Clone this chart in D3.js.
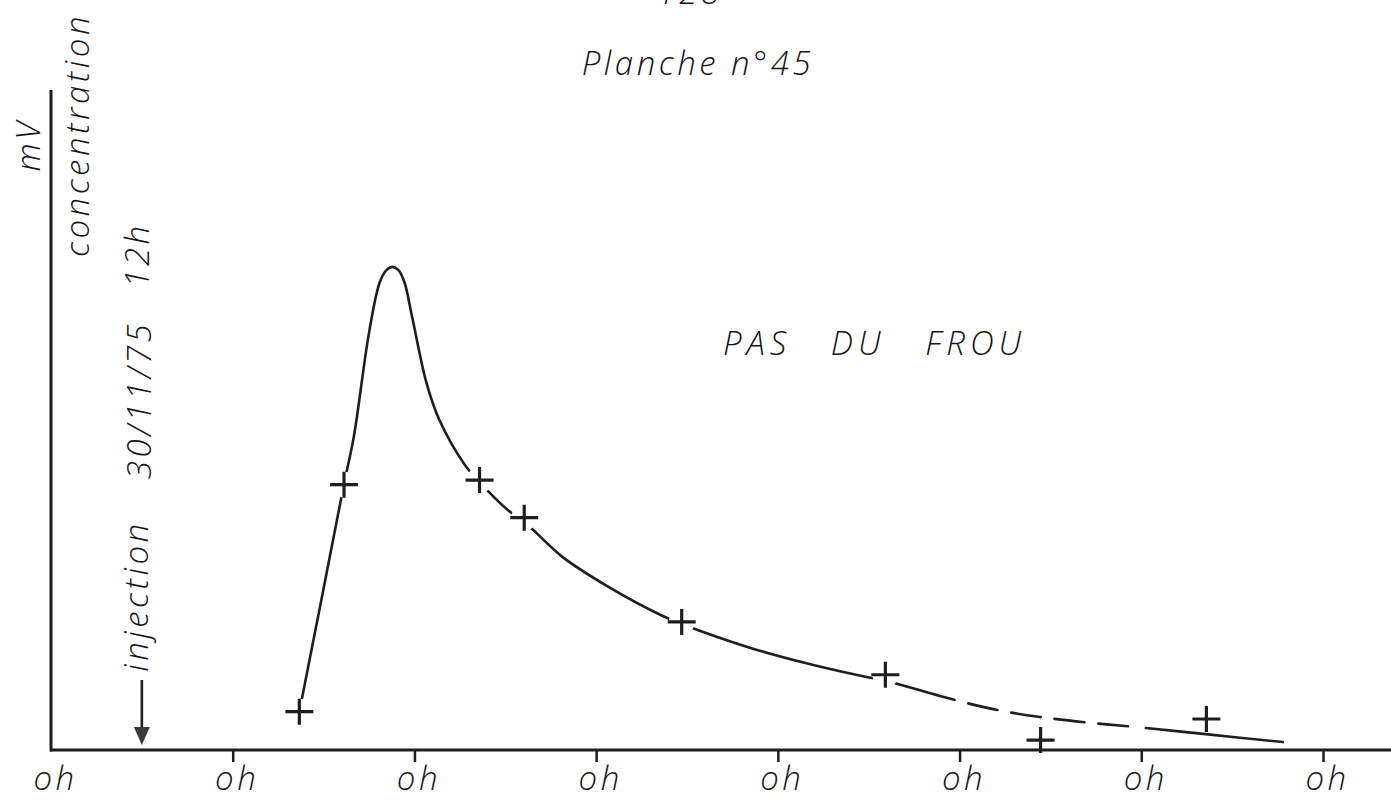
<!DOCTYPE html>
<html>
<head>
<meta charset="utf-8">
<script src="https://cdn.jsdelivr.net/npm/d3@7"></script>
<style>
  html, body { margin: 0; padding: 0; background: #fff; }
  svg { display: block; }
  .lettering { font-family: "Open Sans", "DejaVu Sans", sans-serif; font-style: italic; font-weight: 300; font-size: 33px; letter-spacing: 3.5px; fill: #161616; }
</style>
</head>
<body>
<svg id="chart" width="1391" height="802"></svg>
<script>
// Tracer test, Pas du Frou: time in hours from 0h on 30/11/75, signal in mV.
const tickHours = [0, 24, 48, 72, 96, 120, 144, 168];
const tickLabels = ["oh", "oh", "oh", "oh", "oh", "oh", "oh", "oh"];

// Measured samples (crosses)
const sampleHours = [32.8, 38.7, 56.6, 62.5, 83.3, 110.2, 130.7, 152.6];
const sampleMv    = [5.8, 40.2, 40.9, 35.2, 19.4, 11.4, 1.5, 4.7];

// Hand-drawn restitution curve
const curveHours = [32.8, 35.7, 38.7, 40.0, 42.0, 43.4, 44.3, 45.1, 45.9, 46.7, 47.7, 49.6, 51.3, 54.6, 56.6, 60.5, 62.5, 67.5, 73.8, 80.8, 83.3, 92.3, 99.9, 107.1, 110.2, 119.3, 125.7, 130.6, 136.5, 143.1, 152.5, 162.7];
const curveMv    = [5.8, 22.7, 40.3, 47.5, 63.2, 70.8, 72.7, 73.2, 72.7, 70.8, 65.6, 55.6, 50.0, 43.3, 40.6, 36.2, 34.6, 29.3, 24.6, 20.3, 19.1, 15.5, 13.1, 11.2, 10.5, 7.6, 5.9, 5.0, 4.2, 3.5, 2.4, 1.2];

// Stretch of the curve drawn as an extrapolated (dashed) section, in hours
const dashedSpan = [119.3, 144.6];
const injectionHour = 12;

const W = 1391, H = 802;
const svg = d3.select("#chart");

const x = d3.scaleLinear().domain([0, 168]).range([51, 1323]);
const y = d3.scaleLinear().domain([0, 100]).range([750, 90]);

const ink = "#1e1e1e";

// Curve
const line = d3.line()
  .x((d, i) => x(curveHours[i]))
  .y((d, i) => y(curveMv[i]))
  .curve(d3.curveCatmullRom.alpha(0.5));

const curve = svg.append("path")
  .datum(curveHours)
  .attr("d", line)
  .attr("fill", "none")
  .attr("stroke", ink)
  .attr("stroke-width", 2.6)
  .attr("stroke-linecap", "round");

// Build the dash pattern of the extrapolated section from path lengths
const node = curve.node();
const total = node.getTotalLength();
function lengthAtX(px) {
  let lo = 0, hi = total;
  for (let k = 0; k < 40; k++) {
    const mid = (lo + hi) / 2;
    if (node.getPointAtLength(mid).x < px) lo = mid; else hi = mid;
  }
  return (lo + hi) / 2;
}
const a = lengthAtX(x(dashedSpan[0]));
const b = lengthAtX(x(dashedSpan[1]));
const gap = 14, dash = 30;
const pattern = [a];
let pos = a;
while (pos + gap + dash + gap <= b) { pattern.push(gap, dash); pos += gap + dash; }
pattern.push(b - pos, total - b + 10);
curve.attr("stroke-dasharray", pattern.join(","));

// Gaps in the curve around each cross
svg.append("g").selectAll("circle")
  .data(sampleHours)
  .join("circle")
  .attr("cx", (d) => x(d))
  .attr("cy", (d, i) => y(sampleMv[i]))
  .attr("r", 13)
  .attr("fill", "#fff");

// Axes
svg.append("line")
  .attr("x1", x(0) - 1).attr("x2", W)
  .attr("y1", y(0)).attr("y2", y(0))
  .attr("stroke", ink).attr("stroke-width", 3);
svg.append("line")
  .attr("x1", x(0)).attr("x2", x(0))
  .attr("y1", y(0) + 1.5).attr("y2", y(100))
  .attr("stroke", ink).attr("stroke-width", 3);

const xAxis = d3.axisBottom(x)
  .tickValues(tickHours)
  .tickSize(12)
  .tickPadding(14)
  .tickFormat((d, i) => tickLabels[i]);

const gx = svg.append("g")
  .attr("transform", `translate(0,${y(0)})`)
  .call(xAxis);
gx.select(".domain").remove();
gx.selectAll(".tick line")
  .attr("stroke", ink)
  .attr("stroke-width", 2.5)
  .attr("opacity", (d) => d === 0 ? 0 : 1);
gx.selectAll(".tick text")
  .attr("class", "lettering")
  .attr("text-anchor", "middle")
  .attr("dx", 4)
  .attr("dy", 0)
  .attr("y", 40)
  .attr("fill", "#161616");

// Crosses
svg.append("g").selectAll("path")
  .data(sampleHours)
  .join("path")
  .attr("transform", (d, i) => `translate(${x(d)},${y(sampleMv[i])})`)
  .attr("d", "M-14,0H14M0,-13V13")
  .attr("stroke", ink)
  .attr("stroke-width", 3.2)
  .attr("fill", "none");

// Injection arrow
const ax = x(injectionHour);
svg.append("line")
  .attr("x1", ax).attr("x2", ax)
  .attr("y1", 680).attr("y2", 732)
  .attr("stroke", ink).attr("stroke-width", 2.6);
svg.append("path")
  .attr("d", `M${ax - 8},${727}L${ax + 8},${727}L${ax},${745}Z`)
  .attr("fill", "#3a3a3a");

// Lettering
svg.append("text").attr("class", "lettering")
  .attr("x", 690).attr("y", 4).attr("text-anchor", "middle").text("128");

svg.append("text").attr("class", "lettering")
  .attr("x", 698).attr("y", 75).attr("text-anchor", "middle").text("Planche n°45");

svg.append("text").attr("class", "lettering")
  .attr("x", 723).attr("y", 355)
  .style("letter-spacing", "5px")
  .style("word-spacing", "26px")
  .text("PAS DU FROU");

function vertical(text, bx, cy) {
  svg.append("text").attr("class", "lettering")
    .attr("transform", `translate(${bx},${cy}) rotate(-90)`)
    .attr("text-anchor", "middle")
    .text(text);
}
vertical("mV", 40, 145);
vertical("concentration", 89, 135);
vertical("12h", 149, 255);
vertical("30/11/75", 151, 400);
vertical("injection", 148, 596);
</script>
</body>
</html>
